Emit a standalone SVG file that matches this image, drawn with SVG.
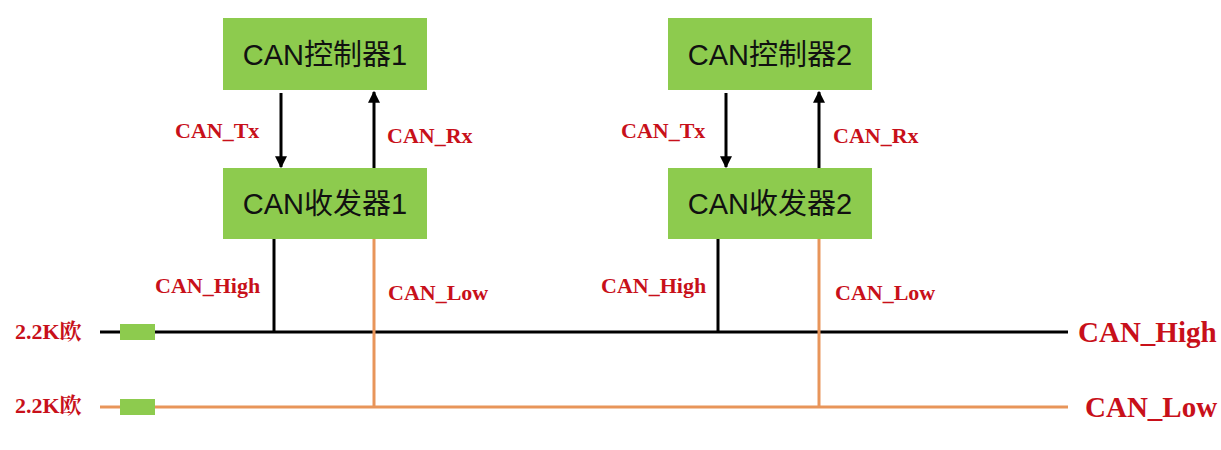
<svg xmlns="http://www.w3.org/2000/svg" width="1221" height="450" viewBox="0 0 1221 450">
<defs>
<marker id="ah" viewBox="0 0 10 10" refX="9" refY="5" markerWidth="12" markerHeight="12" markerUnits="userSpaceOnUse" orient="auto"><path d="M0,0 L10,5 L0,10 z" fill="#000"/></marker>
<style>
.box{fill:#8DCB4E;}
.nt{font-family:"Liberation Sans","Noto Sans CJK SC",sans-serif;font-size:29px;fill:#111;text-anchor:middle;}
.lb{font-family:"Liberation Serif","Noto Serif CJK SC","Noto Sans CJK SC",serif;font-weight:bold;font-size:22px;fill:#C8101A;}
.big{font-size:29px;}
.blk{stroke:#000;stroke-width:3;fill:none;}
.org{stroke:#E8955A;stroke-width:3;fill:none;}
.res{fill:#8DCB4E;}
</style>
</defs>
<rect width="1221" height="450" fill="#fff"/>
<g id="ctrl1"><rect class="box" x="223" y="18" width="204" height="72"/><text class="nt" x="325" y="65">CAN控制器1</text></g>
<g id="trx1"><rect class="box" x="223" y="168" width="204" height="71"/><text class="nt" x="325" y="214">CAN收发器1</text></g>
<g id="ctrl2"><rect class="box" x="668" y="18" width="204" height="72"/><text class="nt" x="770" y="65">CAN控制器2</text></g>
<g id="trx2"><rect class="box" x="668" y="168" width="204" height="71"/><text class="nt" x="770" y="214">CAN收发器2</text></g>
<g id="res1"><rect class="res" x="120" y="324" width="35" height="16"/></g>
<g id="res2"><rect class="res" x="120" y="399" width="35" height="16"/></g>
<g id="connectors">
<line class="blk" x1="281" y1="93" x2="281" y2="167" marker-end="url(#ah)"/>
<line class="blk" x1="374" y1="168" x2="374" y2="92" marker-end="url(#ah)"/>
<line class="blk" x1="726" y1="93" x2="726" y2="167" marker-end="url(#ah)"/>
<line class="blk" x1="819" y1="168" x2="819" y2="92" marker-end="url(#ah)"/>
<line class="blk" x1="100" y1="332" x2="120" y2="332"/>
<line class="blk" x1="155" y1="332" x2="1068" y2="332"/>
<line class="org" x1="100" y1="407" x2="120" y2="407" stroke="#B8693A"/>
<line class="org" x1="155" y1="407" x2="1068" y2="407"/>
<line class="blk" x1="274" y1="239" x2="274" y2="332"/>
<line class="org" x1="374" y1="239" x2="374" y2="407"/>
<line class="blk" x1="718" y1="239" x2="718" y2="332"/>
<line class="org" x1="819" y1="239" x2="819" y2="407"/>
</g>
<g id="labels">
<text class="lb" x="175" y="138">CAN_Tx</text>
<text class="lb" x="387" y="143">CAN_Rx</text>
<text class="lb" x="621" y="138">CAN_Tx</text>
<text class="lb" x="833" y="143">CAN_Rx</text>
<text class="lb" x="155" y="293">CAN_High</text>
<text class="lb" x="388" y="300">CAN_Low</text>
<text class="lb" x="601" y="293">CAN_High</text>
<text class="lb" x="835" y="300">CAN_Low</text>
<text class="lb" x="15" y="339">2.2K欧</text>
<text class="lb" x="15" y="413">2.2K欧</text>
<text class="lb big" x="1078" y="342">CAN_High</text>
<text class="lb big" x="1085" y="417">CAN_Low</text>
</g>
</svg>
